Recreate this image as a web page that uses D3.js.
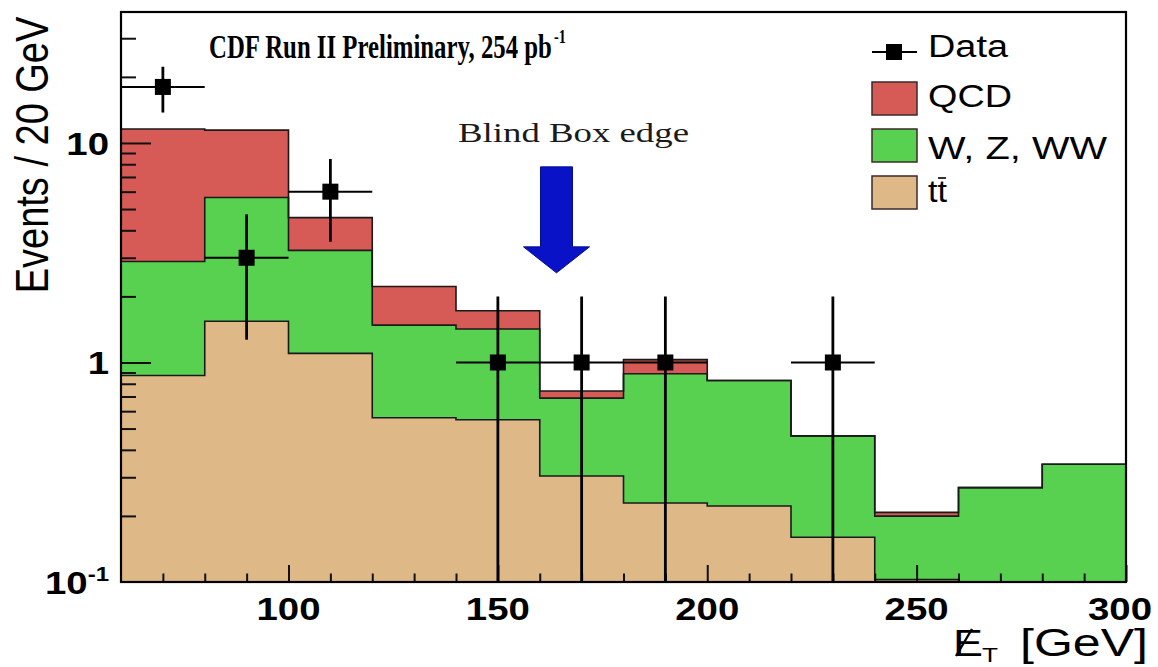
<!DOCTYPE html>
<html><head><meta charset="utf-8">
<script src="https://cdn.jsdelivr.net/npm/d3@7"></script>
<style>body{margin:0;background:#fff}svg{display:block}</style>
</head><body>
<svg id="c" width="1158" height="667"></svg>
<script>
// ---- data ----
const binLow  = [60, 80, 100, 120, 140, 160, 180, 200, 220, 240, 260, 280];
const binHigh = [80, 100, 120, 140, 160, 180, 200, 220, 240, 260, 280, 300];
const ttbar = [0.873, 1.54, 1.10, 0.56, 0.548, 0.304, 0.229, 0.222, 0.160, 0.1025, 0, 0];
const wzww  = [2.01, 4.10, 2.14, 0.92, 0.872, 0.384, 0.660, 0.606, 0.303, 0.097, 0.269, 0.344];
const qcd   = [8.70, 5.80, 1.33, 0.74, 0.30, 0.053, 0.141, 0, 0, 0.008, 0, 0];
const dataX   = [70, 90, 110, 150, 170, 190, 230];
const dataY   = [18, 3, 6, 1, 1, 1, 1];
const dataErr = [4.24, 1.73, 2.45, 1, 1, 1, 1];
const dataXErr = [10, 10, 10, 10, 10, 10, 10];
const xMajorTicks = [100, 150, 200, 250, 300];
const xMinorTicks = [70, 80, 90, 110, 120, 130, 140, 160, 170, 180, 190, 210, 220, 230, 240, 260, 270, 280, 290];
const yMajorTicks = [0.1, 1, 10];
const yMinorTicks = [0.2,0.3,0.4,0.5,0.6,0.7,0.8,0.9,2,3,4,5,6,7,8,9,20,30];
const legendLabels = ["Data", "QCD", "W, Z, WW", "tt"];
const colors = {qcd: "#d65a55", wzww: "#58d150", ttbar: "#deb887"};

const svg = d3.select("#c");
const L = 121, R = 1126, T = 12, B = 582;
const x = d3.scaleLinear().domain([60, 300]).range([L, R]);
const y = d3.scaleLog().domain([0.1, 39.5]).range([B, T]).clamp(true);
const yv = v => y(Math.max(v, 1e-4));

// stacked cumulative
const cumT = ttbar.slice();
const cumW = ttbar.map((d, i) => d + wzww[i]);
const cumQ = cumW.map((d, i) => d + qcd[i]);

const gPlot = svg.append("g");
gPlot.append("defs").append("clipPath").attr("id", "clip")
  .append("rect").attr("x", L).attr("y", T).attr("width", R - L).attr("height", B - T);

function stepPts(vals) {
  const pts = [];
  vals.forEach((v, i) => { pts.push([binLow[i], v]); pts.push([binHigh[i], v]); });
  return pts;
}
const area = d3.area().x(d => x(d[0])).y0(B).y1(d => yv(d[1]));
const line = d3.line().x(d => x(d[0])).y(d => yv(d[1]));

const layers = [
  {vals: cumQ, color: colors.qcd},
  {vals: cumW, color: colors.wzww},
  {vals: cumT, color: colors.ttbar}
];
const lg = gPlot.append("g").attr("clip-path", "url(#clip)");
layers.forEach(l => {
  lg.append("path").attr("d", area(stepPts(l.vals))).attr("fill", l.color).attr("stroke", "none");
});
layers.forEach(l => {
  lg.append("path").attr("d", line(stepPts(l.vals))).attr("fill", "none").attr("stroke", "#1a1a1a").attr("stroke-width", 1.6);
});

// ---- axes (ticks inside) ----
const axisStyle = g => { g.select(".domain").remove(); g.selectAll("line").attr("stroke", "#111").attr("stroke-width", 2); g.selectAll("text").remove(); };
svg.append("g").attr("transform", `translate(0,${B})`)
  .call(d3.axisBottom(x).tickValues(xMajorTicks).tickSize(-17).tickFormat("")).call(axisStyle);
svg.append("g").attr("transform", `translate(0,${B})`)
  .call(d3.axisBottom(x).tickValues(xMinorTicks).tickSize(-8.5).tickFormat("")).call(axisStyle);
svg.append("g").attr("transform", `translate(${L},0)`)
  .call(d3.axisLeft(y).tickValues(yMajorTicks.filter(v => v > 0.1)).tickSize(-30).tickFormat("")).call(axisStyle);
svg.append("g").attr("transform", `translate(${L},0)`)
  .call(d3.axisLeft(y).tickValues(yMinorTicks).tickSize(-15).tickFormat("")).call(axisStyle);

// stretched text helper
function stext(parent, str, px, py, o) {
  const g = parent.append("g").attr("transform", `translate(${px},${py}) scale(${o.sx || 1},1)`);
  return g.append("text").attr("x", 0).attr("y", 0)
    .attr("text-anchor", o.anchor || "start")
    .attr("font-family", o.family || "'Liberation Sans', Arial, sans-serif")
    .attr("font-size", o.size).attr("font-weight", o.weight || "normal")
    .attr("fill", o.fill || "#000").text(str);
}
const sansB = "'Liberation Sans', Arial, Helvetica, sans-serif";
const serif = "'Liberation Serif', 'Times New Roman', serif";

// tick labels
xMajorTicks.forEach(v => {
  stext(svg, String(v), x(v) - (v === 300 ? 6 : 0), 620, {anchor: "middle", size: 32, weight: "bold", sx: 1.2, family: sansB});
});
yMajorTicks.forEach(v => {
  const t = stext(svg, v === 0.1 ? "10" : String(v), 109, y(v) + 12, {anchor: "end", size: 32, weight: "bold", sx: 1.2, family: sansB});
  if (v === 0.1) t.append("tspan").attr("dy", -13).attr("font-size", 20).text("-1");
});

// axis titles
svg.append("g").attr("transform", "translate(48,155) scale(1.2,1) rotate(-90)")
  .append("text").attr("text-anchor", "middle").attr("font-family", sansB).attr("font-size", 38)
  .text("Events / 20 GeV");

// x title: missing ET [GeV]
const xt = svg.append("g").attr("transform", "translate(953,656)");
xt.append("text").attr("x", 0).attr("y", 0).attr("font-family", sansB).attr("font-size", 37)
  .attr("textLength", 30).attr("lengthAdjust", "spacingAndGlyphs").text("E");
xt.append("text").attr("x", 29).attr("y", 6).attr("font-family", sansB).attr("font-size", 21)
  .attr("textLength", 16).attr("lengthAdjust", "spacingAndGlyphs").text("T");
xt.append("line").attr("x1", 3).attr("y1", 0).attr("x2", 19).attr("y2", -27).attr("stroke", "#000").attr("stroke-width", 2.4);
xt.append("text").attr("x", 67).attr("y", 0).attr("font-family", sansB).attr("font-size", 38)
  .attr("textLength", 128).attr("lengthAdjust", "spacingAndGlyphs").text("[GeV]");

// title (superscript kept in the same text element)
const title = stext(svg, "CDF Run II Preliminary, 254 pb", 209, 58, {size: 33, weight: "bold", family: serif})
  .attr("textLength", 357).attr("lengthAdjust", "spacingAndGlyphs");
title.append("tspan").attr("dx", 3).attr("dy", -15).attr("font-size", 19).text("-1");

// Blind box annotation
stext(svg, "Blind Box edge", 458, 142, {size: 27, family: serif, fill: "#1a1a1a"})
  .attr("textLength", 231).attr("lengthAdjust", "spacingAndGlyphs");
const ax = x(164), tipY = y(2.56);
const arrowPts = [[ax - 16, tipY - 106], [ax + 16, tipY - 106], [ax + 16, tipY - 26], [ax + 33, tipY - 26],
                  [ax, tipY], [ax - 33, tipY - 26], [ax - 16, tipY - 26]];
svg.append("polygon").attr("points", arrowPts.map(p => p.join(",")).join(" "))
  .attr("fill", "#0a12c8").attr("stroke", "#00108a").attr("stroke-width", 1);

// ---- data points ----
const dg = svg.append("g").attr("clip-path", "url(#clip)");
dataX.forEach((xv, i) => {
  const yy = dataY[i];
  dg.append("line").attr("x1", x(xv - dataXErr[i])).attr("x2", x(xv + dataXErr[i]))
    .attr("y1", y(yy)).attr("y2", y(yy)).attr("stroke", "#000").attr("stroke-width", 2);
  dg.append("line").attr("x1", x(xv)).attr("x2", x(xv))
    .attr("y1", yv(yy + dataErr[i])).attr("y2", yv(yy - dataErr[i])).attr("stroke", "#000").attr("stroke-width", 2.8);
  dg.append("rect").attr("x", x(xv) - 8).attr("y", y(yy) - 8).attr("width", 16).attr("height", 16).attr("fill", "#000");
});

// frame
svg.append("rect").attr("x", L).attr("y", T).attr("width", R - L).attr("height", B - T)
  .attr("fill", "none").attr("stroke", "#000").attr("stroke-width", 2.2);

// ---- legend ----
const lgd = svg.append("g");
lgd.append("line").attr("x1", 872).attr("x2", 917).attr("y1", 52).attr("y2", 52).attr("stroke", "#000").attr("stroke-width", 2);
lgd.append("rect").attr("x", 886).attr("y", 44).attr("width", 16).attr("height", 16).attr("fill", "#000");
const boxes = [{c: colors.qcd, y: 82}, {c: colors.wzww, y: 129}, {c: colors.ttbar, y: 176}];
boxes.forEach(b => lgd.append("rect").attr("x", 872).attr("y", b.y).attr("width", 45).attr("height", 33)
  .attr("fill", b.c).attr("stroke", "#3a2a2a").attr("stroke-width", 1.5));
const legY = [57, 107, 159, 202];
const legW = [80, 84, 179, 19];
legendLabels.forEach((s, i) => {
  stext(lgd, s, 928, legY[i], {size: 31, family: sansB}).attr("textLength", legW[i]).attr("lengthAdjust", "spacingAndGlyphs");
});
lgd.append("line").attr("x1", 938).attr("x2", 946).attr("y1", 178).attr("y2", 178).attr("stroke", "#000").attr("stroke-width", 1.6);
</script>
</body></html>
